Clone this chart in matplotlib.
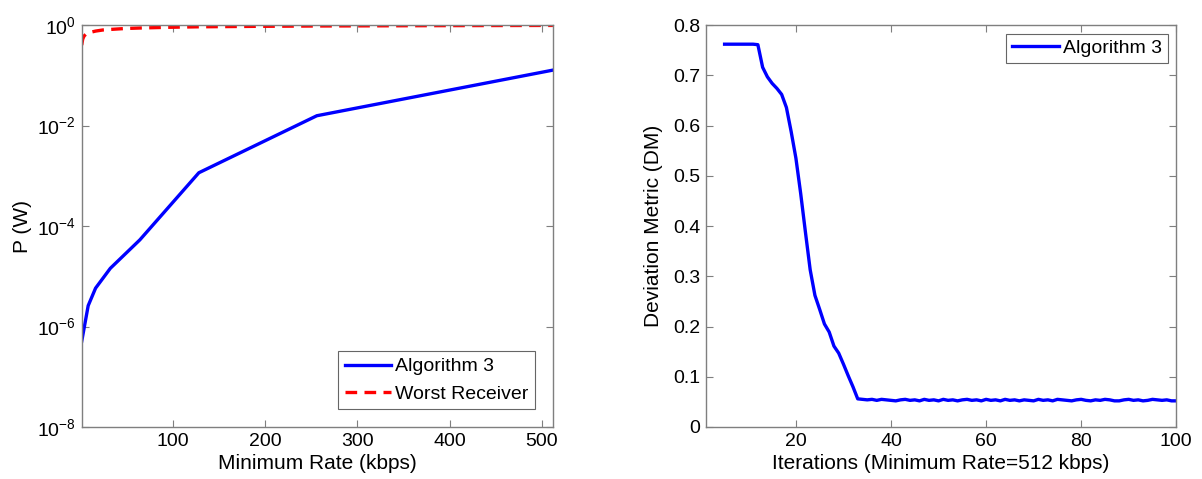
import matplotlib
matplotlib.use("Agg")
import matplotlib.pyplot as plt
from matplotlib.ticker import NullLocator

plt.rcParams["font.family"] = ["Liberation Sans", "DejaVu Sans"]
plt.rcParams["font.size"] = 14
plt.rcParams["mathtext.fontset"] = "custom"
plt.rcParams["mathtext.rm"] = "Liberation Sans"

# power vs. minimum rate
rate_alg = [1, 8, 16, 32, 64, 128, 256, 512]
power_alg = [5.1e-7, 2.6e-6, 5.8e-6, 1.44e-5, 5.3e-5, 1.15e-3, 1.57e-2, 0.127]

rate_worst = [1, 2, 3, 4, 6, 8, 12, 16, 24, 32, 48, 64, 96, 128, 192, 256, 384, 512]
power_worst = [0.40, 0.52, 0.58, 0.62, 0.67, 0.70, 0.73, 0.76, 0.80, 0.82,
               0.855, 0.875, 0.905, 0.925, 0.945, 0.96, 0.975, 0.985]

p_ticks = [1e-8, 1e-6, 1e-4, 1e-2, 1]

# deviation metric over iterations (minimum rate 512 kbps)
iters = list(range(5, 101))
dm = [0.762, 0.762, 0.762, 0.762, 0.762, 0.762, 0.762, 0.761,
      0.716, 0.697, 0.684, 0.674, 0.662, 0.636, 0.588, 0.535, 0.465,
      0.388, 0.313, 0.262, 0.234, 0.205, 0.189, 0.161, 0.147, 0.125,
      0.102, 0.080, 0.056,
      0.055, 0.054, 0.055, 0.053, 0.055, 0.054, 0.053, 0.052, 0.054, 0.055,
      0.053, 0.054, 0.052, 0.055, 0.053, 0.054, 0.052, 0.055, 0.053, 0.054,
      0.052, 0.054, 0.055, 0.053, 0.054, 0.052, 0.055, 0.053, 0.054, 0.052,
      0.055, 0.053, 0.054, 0.052, 0.054, 0.053, 0.052, 0.055, 0.053, 0.054,
      0.052, 0.055, 0.054, 0.053, 0.052, 0.054, 0.055, 0.053, 0.052, 0.054,
      0.053, 0.055, 0.054, 0.052, 0.052, 0.054, 0.055, 0.053, 0.054, 0.052,
      0.053, 0.055, 0.054, 0.053, 0.054, 0.052, 0.052]
dm_ticks = [0, 0.1, 0.2, 0.3, 0.4, 0.5, 0.6, 0.7, 0.8]
dm_ticklabels = ["0", "0.1", "0.2", "0.3", "0.4", "0.5", "0.6", "0.7", "0.8"]

SPINE = "#7f7f7f"


def style_axes(ax):
    for s in ax.spines.values():
        s.set_color(SPINE)
        s.set_linewidth(1.0)
    ax.tick_params(direction="in", top=True, right=True, color=SPINE,
                   length=5, labelcolor="black", labelsize=14, pad=4)


def style_legend(leg):
    frame = leg.get_frame()
    frame.set_edgecolor("#404040")
    frame.set_linewidth(0.8)


fig = plt.figure(figsize=(12.02, 4.79), dpi=100)
ax1 = fig.add_axes([0.068, 0.1086, 0.392, 0.839])
ax2 = fig.add_axes([0.587, 0.1086, 0.3916, 0.839])

ax1.plot(rate_alg, power_alg, color="blue", lw=2.4, label="Algorithm 3")
ax1.plot(rate_worst, power_worst, color="red", lw=2.4, ls=(0, (3.5, 2.2)),
         label="Worst Receiver")
ax1.set_yscale("log")
ax1.set_xlim(1, 512)
ax1.set_ylim(1e-8, 1)
ax1.set_yticks(p_ticks)
ax1.yaxis.set_minor_locator(NullLocator())
ax1.set_xticks([100, 200, 300, 400, 500])
ax1.set_xlabel("Minimum Rate (kbps)", fontsize=15, labelpad=3)
ax1.set_ylabel("P (W)", fontsize=15, labelpad=4)
style_axes(ax1)
leg1 = ax1.legend(loc="lower right", fontsize=14, frameon=True, fancybox=False,
                  handlelength=2.4, handletextpad=0.2, borderpad=0.35,
                  labelspacing=0.5, borderaxespad=0.9)
style_legend(leg1)

ax2.plot(iters, dm, color="blue", lw=2.4, label="Algorithm 3")
ax2.set_xlim(1, 100)
ax2.set_ylim(0, 0.8)
ax2.set_xticks([20, 40, 60, 80, 100])
ax2.set_yticks(dm_ticks)
ax2.set_yticklabels(dm_ticklabels)
ax2.set_xlabel("Iterations (Minimum Rate=512 kbps)", fontsize=15, labelpad=3)
ax2.set_ylabel("Deviation Metric (DM)", fontsize=15, labelpad=7)
style_axes(ax2)
leg2 = ax2.legend(loc="upper right", fontsize=14, frameon=True, fancybox=False,
                  handlelength=2.4, handletextpad=0.2, borderpad=0.3,
                  borderaxespad=0.45)
style_legend(leg2)

fig.savefig("out.png", dpi=100)
